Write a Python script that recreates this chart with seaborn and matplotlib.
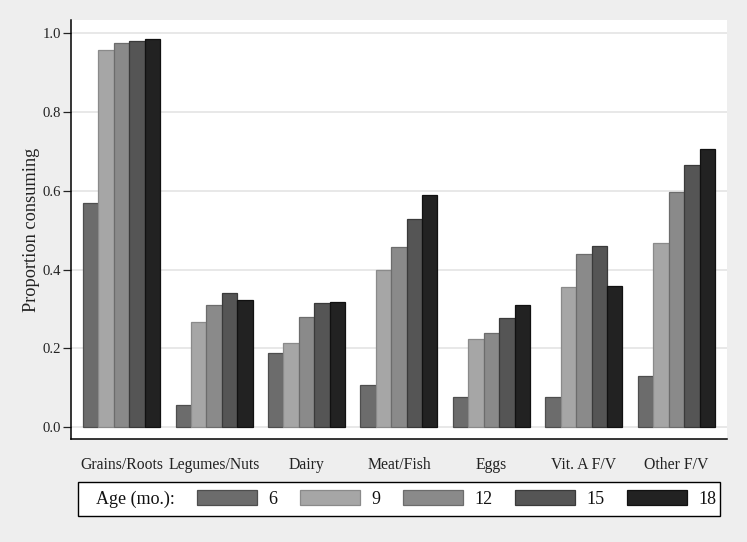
import pandas as pd
import matplotlib
matplotlib.use('Agg')
import matplotlib.pyplot as plt
import matplotlib.patches as mpatches
import seaborn as sns

# data
groups = ['Grains/Roots', 'Legumes/Nuts', 'Dairy', 'Meat/Fish', 'Eggs', 'Vit. A F/V', 'Other F/V']
ages = ['6', '9', '12', '15', '18']
age6 = [0.569, 0.057, 0.188, 0.106, 0.076, 0.076, 0.130]
age9 = [0.958, 0.267, 0.213, 0.398, 0.224, 0.356, 0.467]
age12 = [0.976, 0.310, 0.279, 0.458, 0.240, 0.440, 0.596]
age15 = [0.980, 0.340, 0.316, 0.528, 0.276, 0.461, 0.665]
age18 = [0.986, 0.322, 0.318, 0.589, 0.310, 0.358, 0.707]
yticks = [0.0, 0.2, 0.4, 0.6, 0.8, 1.0]

cols = ['#6c6c6c', '#a6a6a6', '#8a8a8a', '#555555', '#222222']
edges = ['#4e4e4e', '#8a8a8a', '#6c6c6c', '#3a3a3a', '#111111']

rows = []
for a, vals in zip(ages, [age6, age9, age12, age15, age18]):
    for g, v in zip(groups, vals):
        rows.append({'group': g, 'age': a, 'prop': v})
df = pd.DataFrame(rows)

sns.set_theme(style='white')
plt.rcParams['font.family'] = ['Liberation Serif', 'DejaVu Serif']

bg = '#eeeeee'
fig = plt.figure(figsize=(7.47, 5.42), dpi=100, facecolor=bg)
ax = fig.add_axes([0.0950, 0.190, 0.8782, 0.7731])
ax.set_facecolor('white')

sns.barplot(data=df, x='group', y='prop', hue='age', hue_order=ages, order=groups,
            palette=cols, width=0.833, gap=0, legend=False, ax=ax, saturation=1)

for cont, ec in zip(ax.containers, edges):
    for p in cont:
        p.set_edgecolor(ec)
        p.set_linewidth(0.9)

ax.set_xlim(-0.547, 6.547)
ax.set_ylim(-0.0305, 1.0338)
ax.set_yticks(yticks)
ax.set_yticklabels(['%.1f' % t for t in yticks])
ax.yaxis.grid(True, color='#e6e6e6', linewidth=1.3)
ax.set_axisbelow(True)

for s in ['top', 'right']:
    ax.spines[s].set_visible(False)
for s in ['left', 'bottom']:
    ax.spines[s].set_color('black')
    ax.spines[s].set_linewidth(1.1)

ax.tick_params(axis='x', length=0, pad=13, labelsize=11.3, colors='#222222')
ax.tick_params(axis='y', length=5.5, width=0.9, direction='out', pad=1.5,
               labelsize=10.6, colors='#222222', left=True)
ax.set_xlabel('')
ax.set_ylabel('Proportion consuming', fontsize=13.2, color='#222222')
ax.yaxis.set_label_coords(-0.047, 0.5)

# legend box
W, H = 747, 542
rect = mpatches.Rectangle((78 / W, 1 - 516 / H), (720 - 78) / W, 34 / H,
                          transform=fig.transFigure, facecolor='white',
                          edgecolor='black', linewidth=1.0, zorder=1)
fig.add_artist(rect)
fig.text(96 / W, 1 - 499 / H, 'Age (mo.):', fontsize=13, va='center', ha='left',
         color='#111111', zorder=3)
handles = [mpatches.Patch(facecolor=c, edgecolor=e, linewidth=0.9) for c, e in zip(cols, edges)]
leg = fig.legend(handles, ages, loc='center left', bbox_to_anchor=(197 / W, 1 - 499 / H),
                 ncol=5, frameon=False, fontsize=13, handlelength=3.35, handleheight=0.9,
                 handletextpad=0.6, columnspacing=1.25, borderpad=0, borderaxespad=0)
leg.set_zorder(3)
for t in leg.get_texts():
    t.set_color('#111111')

fig.savefig('out.png', dpi=100, facecolor=bg)
